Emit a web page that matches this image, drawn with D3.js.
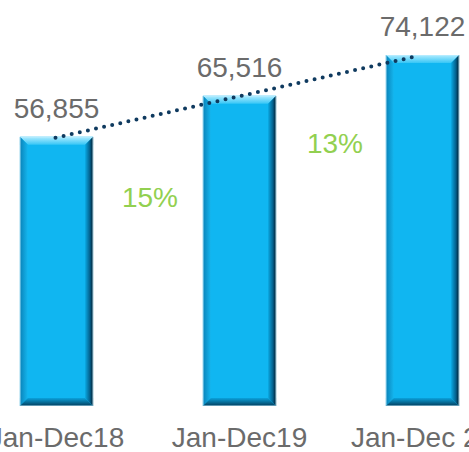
<!DOCTYPE html>
<html>
<head>
<meta charset="utf-8">
<script src="https://cdn.jsdelivr.net/npm/d3@7"></script>
<style>
  body { margin: 0; background: #fff; }
  svg { display: block; }
</style>
</head>
<body>
<div id="chart"></div>
<script>
// data
var categories = ["Jan-Dec18", "Jan-Dec19", "Jan-Dec 20"];
var values = [56855, 65516, 74122];
var growthLabels = ["15%", "13%"];

var width = 469, height = 452;

var svg = d3.select("#chart")
  .append("svg")
    .attr("width", width)
    .attr("height", height);

// x band: bars 73px wide, 183px pitch, first bar at x=20
var x = d3.scaleBand()
  .domain(categories)
  .range([-35, 514])
  .paddingInner(0.6)
  .paddingOuter(0.3);

var y = d3.scaleLinear()
  .domain([0, 74122])
  .range([406, 55]);

// gradients for bevel
var defs = svg.append("defs");
function grad(id, x1, y1, x2, y2, stops) {
  var g = defs.append("linearGradient").attr("id", id)
    .attr("x1", x1).attr("y1", y1).attr("x2", x2).attr("y2", y2);
  stops.forEach(function(s) {
    g.append("stop").attr("offset", s[0]).attr("stop-color", s[1]);
  });
}
grad("gTop", 0, 0, 0, 1, [[0, "#b0ecff"], [1, "#36c6f6"]]);
grad("gLeft", 0, 0, 1, 0, [[0, "#0a82b8"], [1, "#14b6ef"]]);
grad("gRight", 0, 0, 1, 0, [[0, "#0aa8e2"], [0.6, "#04608c"], [1, "#001a2a"]]);
grad("gBottom", 0, 0, 0, 1, [[0, "#0aa2dc"], [1, "#033d5c"]]);

var bev = 8;
var bars = svg.append("g").selectAll("g")
  .data(values)
  .enter().append("g");

bars.each(function(d, i) {
  var g = d3.select(this);
  var x0 = x(categories[i]), w = x.bandwidth();
  var x1 = x0 + w, y0 = y(d), y1 = y(0);
  g.append("rect")
    .attr("x", x0).attr("y", y0)
    .attr("width", w).attr("height", y1 - y0)
    .attr("fill", "#10b6f1");
  var poly = function(pts, fill) {
    g.append("polygon")
      .attr("points", pts.map(function(p) { return p.join(","); }).join(" "))
      .attr("fill", fill);
  };
  poly([[x0, y0], [x1, y0], [x1 - bev, y0 + bev], [x0 + bev, y0 + bev]], "url(#gTop)");
  poly([[x0, y0], [x0 + bev, y0 + bev], [x0 + bev, y1 - bev], [x0, y1]], "url(#gLeft)");
  poly([[x1, y0], [x1, y1], [x1 - bev, y1 - bev], [x1 - bev, y0 + bev]], "url(#gRight)");
  poly([[x0, y1], [x0 + bev, y1 - bev], [x1 - bev, y1 - bev], [x1, y1]], "url(#gBottom)");
  g.append("rect")
    .attr("x", x0 + 0.5).attr("y", y0 + 0.5)
    .attr("width", w - 1).attr("height", y1 - y0 - 1)
    .attr("fill", "none")
    .attr("stroke", "#bfeeff")
    .attr("stroke-opacity", 0.5)
    .attr("stroke-width", 1);
});

// dotted trend line across the bar tops
var cx = function(i) { return x(categories[i]) + x.bandwidth() / 2; };
svg.append("line")
  .attr("x1", cx(0) - 1).attr("y1", y(values[0]) + 1)
  .attr("x2", cx(2) - 5).attr("y2", y(values[2]) + 1)
  .attr("stroke", "#0f3a5f")
  .attr("stroke-width", 4)
  .attr("stroke-linecap", "round")
  .attr("stroke-dasharray", "0 8.3");

// value labels
svg.append("g").selectAll("text")
  .data(values)
  .enter().append("text")
    .attr("x", function(d, i) { return cx(i); })
    .attr("y", function(d) { return y(d) - 19; })
    .attr("text-anchor", "middle")
    .attr("font-family", "Liberation Sans, Arial, sans-serif")
    .attr("font-size", 28)
    .attr("fill", "#6b6b6b")
    .text(function(d) { return d3.format(",")(d); });

// growth labels between bars
var growthPos = [[150, 207], [335, 153]];
svg.append("g").selectAll("text")
  .data(growthLabels)
  .enter().append("text")
    .attr("x", function(d, i) { return growthPos[i][0]; })
    .attr("y", function(d, i) { return growthPos[i][1]; })
    .attr("text-anchor", "middle")
    .attr("font-family", "Liberation Sans, Arial, sans-serif")
    .attr("font-size", 28)
    .attr("fill", "#92d050")
    .text(function(d) { return d; });

// category axis
var xAxis = svg.append("g")
  .attr("transform", "translate(0," + 406 + ")")
  .call(d3.axisBottom(x).tickSize(0).tickPadding(0));
xAxis.select(".domain").remove();
xAxis.selectAll("text")
  .attr("dy", null)
  .attr("y", 41)
  .attr("font-family", "Liberation Sans, Arial, sans-serif")
  .attr("font-size", 28)
  .attr("fill", "#6b6b6b");
</script>
</body>
</html>
